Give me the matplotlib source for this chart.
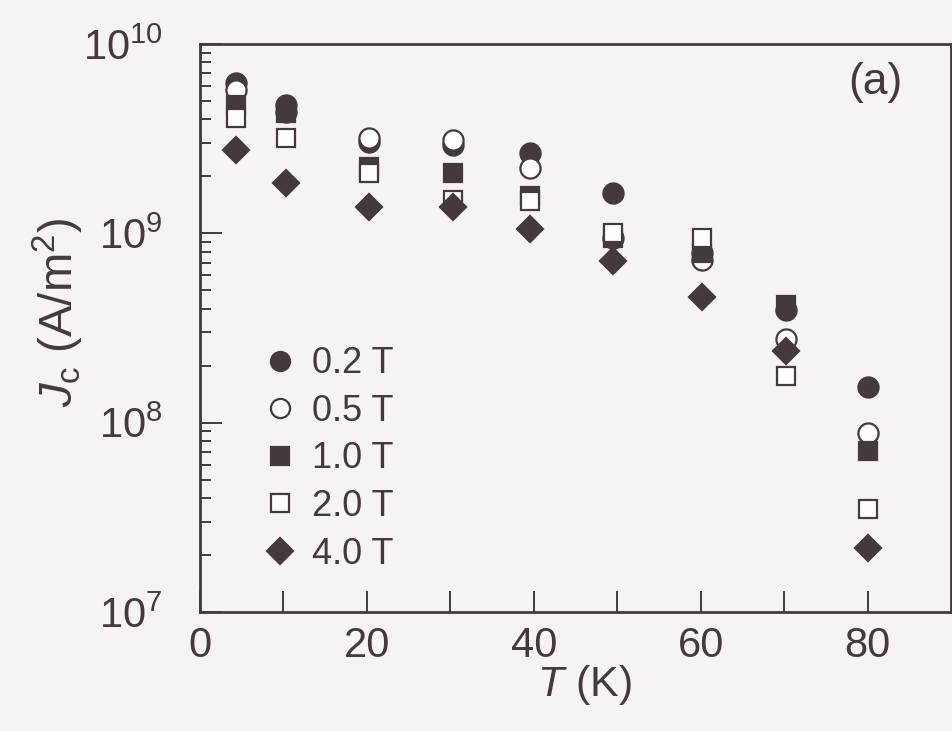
import numpy as np
import matplotlib
matplotlib.use("Agg")
import matplotlib.pyplot as plt
from matplotlib.ticker import LogLocator, FixedLocator

# =========================
# Data
# =========================

temps = [4.3, 10.3, 20.3, 30.3, 39.5, 49.5, 60.2, 70.2, 80.0]

jc_02T = [6.2e9, 4.75e9, 3.03e9, 2.92e9, 2.65e9, 1.63e9, 7.9e8, 3.96e8, 1.55e8]
jc_05T = [5.7e9, 4.4e9, 3.2e9, 3.1e9, 2.21e9, 0.95e9, 7.2e8, 2.78e8, 8.85e7]
jc_10T = [4.75e9, 4.3e9, 2.23e9, 2.08e9, 1.57e9, 0.95e9, 7.9e8, 4.16e8, 7.1e7]
jc_20T = [4.06e9, 3.2e9, 2.08e9, 1.5e9, 1.48e9, 1.01e9, 9.4e8, 1.77e8, 3.5e7]
jc_40T = [2.75e9, 1.84e9, 1.37e9, 1.37e9, 1.06e9, 7.1e8, 4.6e8, 2.4e8, 2.18e7]

labels = ["0.2 T", "0.5 T", "1.0 T", "2.0 T", "4.0 T"]

# =========================
# Style
# =========================

ink = "#43393f"
paper = "#f6f3f4"

plt.rcParams["font.family"] = ["Liberation Sans", "DejaVu Sans"]
plt.rcParams["mathtext.fontset"] = "custom"
plt.rcParams["mathtext.rm"] = "Liberation Sans"
plt.rcParams["mathtext.it"] = "Liberation Sans:italic"
plt.rcParams["text.color"] = ink

fig = plt.figure(figsize=(9.53, 7.31), dpi=100, facecolor=paper)
ax = fig.add_axes([0.2099, 0.1628, 0.7880, 0.7770], facecolor=paper)

series = [jc_02T, jc_05T, jc_10T, jc_20T, jc_40T]
styles = [
    dict(marker="o", mfc=ink, ms=14.5),
    dict(marker="o", mfc="white", ms=14.5),
    dict(marker="s", mfc=ink, ms=13.5),
    dict(marker="s", mfc="white", ms=13.5),
    dict(marker="D", mfc=ink, ms=13.5),
]

for vals, st, lab in zip(series, styles, labels):
    ax.plot(temps, vals, linestyle="none", mec=ink, mew=1.6,
            label=lab, **st)

ax.set_yscale("log")
ax.set_xlim(0, 90)
ax.set_ylim(1e7, 1e10)

ax.xaxis.set_major_locator(FixedLocator([0, 20, 40, 60, 80]))
ax.xaxis.set_minor_locator(FixedLocator([10, 30, 50, 70]))
ax.yaxis.set_major_locator(LogLocator(base=10))
ax.yaxis.set_minor_locator(LogLocator(base=10, subs=np.arange(2, 10)))

ax.tick_params(which="both", direction="in", color=ink, width=1.4,
               top=False, right=False, labelcolor=ink, labelsize=30)
ax.tick_params(axis="x", which="both", length=15, pad=10)
ax.tick_params(axis="y", which="major", length=16, pad=27)
ax.tick_params(axis="y", which="minor", length=8)

for sp in ax.spines.values():
    sp.set_color(ink)
    sp.set_linewidth(2.0)

ax.set_xlabel("$T$ (K)", fontsize=31, color=ink)
ax.xaxis.set_label_coords(0.512, -0.09)
ax.set_ylabel("$J_\\mathrm{c}$ (A/m$^2$)", fontsize=34, color=ink)
ax.yaxis.set_label_coords(-0.152, 0.528)

ax.text(0.899, 0.932, "(a)", transform=ax.transAxes, fontsize=32,
        color=ink, ha="center", va="center")

ax.legend(loc="upper left", bbox_to_anchor=(0.087, 0.468), frameon=False,
          fontsize=26, handlelength=0.8, handletextpad=0.48,
          labelspacing=0.35, borderpad=0, borderaxespad=0,
          markerscale=0.95)

fig.savefig("out.png", dpi=100, facecolor=paper)
